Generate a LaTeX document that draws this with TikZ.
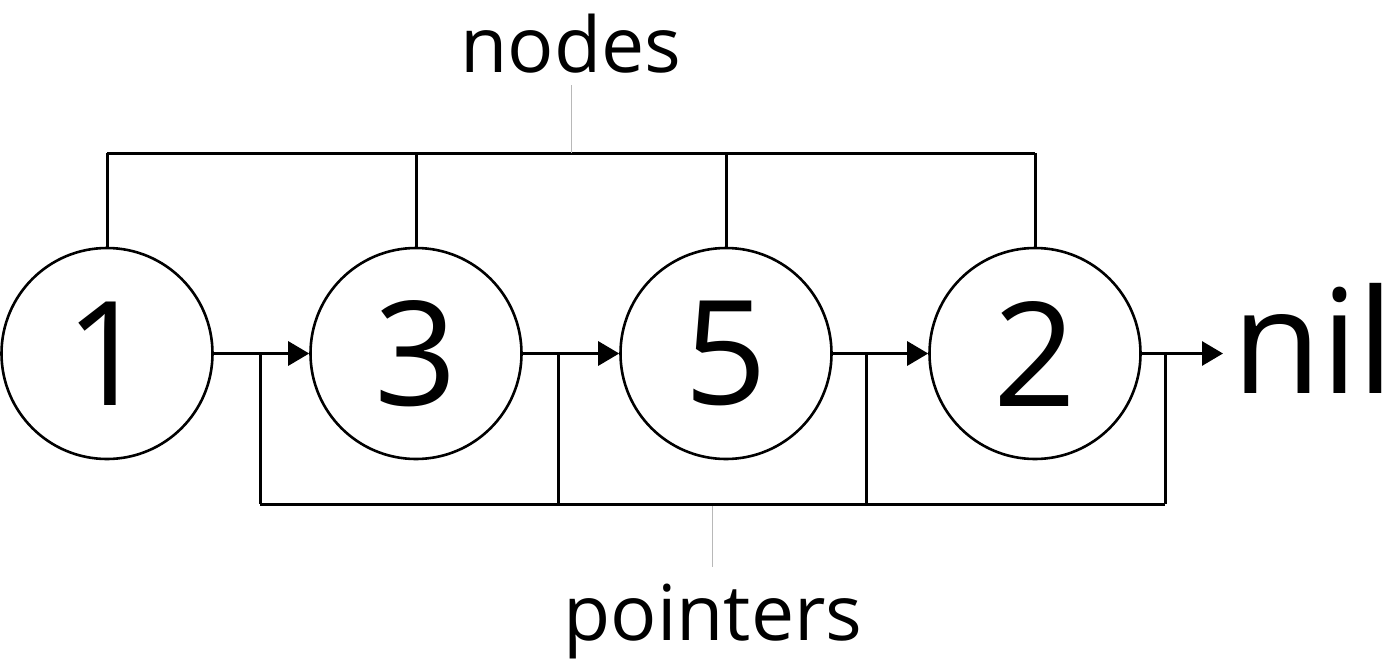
\documentclass[tikz,border=0pt]{standalone}
\usepackage{fontspec}
\setmainfont{Open Sans}
\usetikzlibrary{arrows.meta}
\begin{document}
\begin{tikzpicture}[x=1pt,y=-1pt,
  listnode/.style={circle,draw,line width=2.6pt,minimum size=211pt,inner sep=0pt,font=\fontsize{145}{145}\selectfont},
  link/.style={line width=3pt},
  ptr/.style={line width=3pt,-{Triangle[length=21pt,width=24pt]}},
  note/.style={draw=black!28,line width=1pt},
  lbl/.style={inner sep=0pt,anchor=base,font=\fontsize{77}{77}\selectfont}]
\useasboundingbox (0,0) rectangle (1400,662);
\node[listnode] (n1) at (107,353.5) {1};
\node[listnode] (n3) at (416,353.5) {3};
\node[listnode] (n5) at (726,353.5) {5};
\node[listnode] (n2) at (1035,353.5) {2};
\node[inner sep=0pt,anchor=base west,font=\fontsize{145}{145}\selectfont] (nil) at (1232,393) {nil};
\node[lbl] (lnodes) at (571,72) {nodes};
\node[lbl] (lptr) at (713,640) {pointers};
% top bracket
\coordinate (tl) at (107,153);
\coordinate (tr) at (1035,153);
\draw[link] (tl) -- (tr);
\foreach \n in {n1,n3,n5,n2} \draw[link] (\n.north) -- (\n.north |- tl);
\coordinate (topnote) at (571,153);
\draw[note] (topnote) -- (571,85);
% pointers
\draw[ptr] (n1.east) -- (n3.west);
\draw[ptr] (n3.east) -- (n5.west);
\draw[ptr] (n5.east) -- (n2.west);
\draw[ptr] (n2.east) -- (1223,353.5) coordinate (nilend);
\coordinate (b1) at (260,353.5);
\coordinate (b2) at (558,353.5);
\coordinate (b3) at (866,353.5);
\coordinate (b4) at (1165,353.5);
\coordinate (bl) at (260,504);
\coordinate (br) at (1165,504);
\draw[link] (bl) -- (br);
\foreach \b in {b1,b2,b3,b4} \draw[link] (\b) -- (\b |- bl);
\coordinate (botnote) at (712,506);
\draw[note] (botnote) -- (712,567);
\end{tikzpicture}
\end{document}
